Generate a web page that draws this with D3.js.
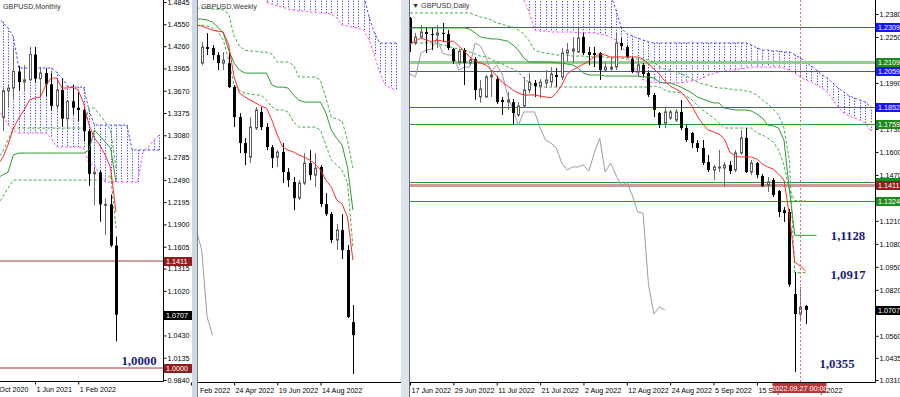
<!DOCTYPE html>
<html><head><meta charset="utf-8">
<script src="https://cdn.jsdelivr.net/npm/d3@7"></script>
<style>body{margin:0;background:#fff}svg{display:block}</style>
</head><body>
<svg id="c" width="900" height="397"></svg>
<script>
// ---------------- DATA ----------------
// Monthly GBPUSD, Nov 2020 .. Sep 2022  [open, high, low, close]
const monthlyDates = ["2020-11","2020-12","2021-01","2021-02","2021-03","2021-04","2021-05","2021-06","2021-07","2021-08","2021-09","2021-10","2021-11","2021-12","2022-01","2022-02","2022-03","2022-04","2022-05","2022-06","2022-07","2022-08","2022-09"];
const monthlyOHLC = [
[1.2960,1.3400,1.2855,1.3320],[1.3320,1.3705,1.3135,1.3670],[1.3670,1.3760,1.3450,1.3705],[1.3705,1.4240,1.3565,1.3925],
[1.3925,1.4000,1.3670,1.3785],[1.3785,1.4010,1.3670,1.3815],[1.3815,1.4250,1.3800,1.4150],[1.4150,1.4250,1.3785,1.3830],
[1.3830,1.3985,1.3570,1.3905],[1.3905,1.3960,1.3600,1.3755],[1.3755,1.3910,1.3410,1.3470],[1.3470,1.3835,1.3410,1.3680],
[1.3680,1.3835,1.3195,1.3300],[1.3300,1.3545,1.3160,1.3530],[1.3530,1.3750,1.3355,1.3445],[1.3445,1.3645,1.3270,1.3415],
[1.3415,1.3440,1.3000,1.3135],[1.3135,1.3165,1.2410,1.2570],[1.2570,1.2665,1.2155,1.2590],[1.2590,1.2615,1.1935,1.2165],
[1.2165,1.2245,1.1760,1.2165],[1.2165,1.2295,1.1600,1.1620],[1.1620,1.1740,1.0350,1.0707]];
const monthlyTenkan = [1.2686,1.2779,1.2951,1.3176,1.3309,1.3415,1.3547,1.3574,1.3587,1.3746,1.3838,1.3838,1.3706,1.3706,1.3719,1.3679,1.3507,1.3216,1.3044,1.2951,1.2819,1.2646,1.2064];
const monthlyKijun = [1.2514,1.2554,1.2593,1.2819,1.2845,1.2845,1.2845,1.2845,1.2845,1.2845,1.2845,1.2845,1.2845,1.2845,1.2845,1.2845,1.2845,1.2885,1.3150,1.3070,1.2991,1.2911,1.2461];
const monthlyLevelUp = [1.2752,1.2858,1.3017,1.3176,1.3176,1.3176,1.3176,1.3176,1.3176,1.3176,1.3176,1.3176,1.3176,1.3176,1.3176,1.3176,1.3176,1.3441,1.3441,1.3348,1.3256,1.3150,1.2646];
const monthlyLevelDn = [1.2156,1.2262,1.2381,1.2487,1.2487,1.2487,1.2487,1.2487,1.2487,1.2487,1.2487,1.2487,1.2487,1.2487,1.2487,1.2487,1.2487,1.2487,1.2487,1.2487,1.2487,1.2554,1.1852];
const monthlySpanA = [1.4633,1.4580,1.4501,1.4381,1.3971,1.3971,1.3971,1.3971,1.3971,1.3971,1.3971,1.3918,1.3838,1.3732,1.3719,1.3719,1.3719,1.3415,1.3216,1.3216,1.3216,1.3216,1.3216,1.3216,1.3216,1.2885,1.2885,1.2885,1.2885,1.2885,1.2885];
const monthlySpanB = [1.3415,1.3348,1.3216,1.3150,1.3110,1.3110,1.3110,1.3110,1.3110,1.3110,1.3044,1.2925,1.2925,1.2925,1.2925,1.2925,1.2911,1.2712,1.2686,1.2554,1.2461,1.2461,1.2461,1.2461,1.2461,1.2461,1.2461,1.2858,1.2925,1.3017,1.3083];
const monthlyTicks = ["1 Oct 2020","1 Jun 2021","1 Feb 2022"];
const monthlyPriceLabels = [1.4845,1.4550,1.4260,1.3965,1.3670,1.3375,1.3080,1.2785,1.2490,1.2195,1.1900,1.1605,1.1315,1.1020,1.0430,1.0135,0.9840];
const monthlyLevels = [1.1411,1.0000];

// Weekly GBPUSD, weeks of 13 Mar .. 25 Sep 2022
const weeklyOHLC = [
[1.2974,1.3149,1.2958,1.3108],[1.3108,1.3224,1.3041,1.3092],[1.3099,1.3124,1.2999,1.3041],[1.3041,1.3066,1.2916,1.2974],
[1.2974,1.3066,1.2916,1.2999],[1.2974,1.3066,1.2766,1.2774],[1.2774,1.2791,1.2441,1.2524],[1.2524,1.2558,1.2224,1.2308],
[1.2308,1.2349,1.2124,1.2224],[1.2191,1.2524,1.2141,1.2441],[1.2433,1.2608,1.2416,1.2583],[1.2566,1.2608,1.2416,1.2441],
[1.2441,1.2474,1.2249,1.2274],[1.2274,1.2291,1.2099,1.2183],[1.2191,1.2249,1.2108,1.2233],[1.2233,1.2308,1.1974,1.2066],
[1.2066,1.2099,1.1941,1.1999],[1.1983,1.2024,1.1749,1.1849],[1.1849,1.1999,1.1833,1.1974],[1.1974,1.2224,1.1958,1.2141],
[1.2141,1.2249,1.1999,1.2041],[1.2041,1.2224,1.1941,1.2099],[1.2108,1.2124,1.1774,1.1799],[1.1799,1.1891,1.1699,1.1716],
[1.1716,1.1733,1.1474,1.1499],[1.1499,1.1633,1.1416,1.1583],[1.1583,1.1716,1.1341,1.1416],[1.1416,1.1458,1.0850,1.0858],
[1.0816,1.0958,1.0383,1.0707]];
const weeklyTenkan = [1.3291,1.3283,1.3266,1.3249,1.3241,1.3233,1.3124,1.2858,1.2724,1.2691,1.2666,1.2641,1.2616,1.2599,1.2499,1.2374,1.2274,1.2249,1.2233,1.2208,1.2191,1.2166,1.2133,1.2083,1.1999,1.1941,1.1833,1.1799,1.1691,1.1333];
const weeklyKijun = [1.3341,1.3341,1.3333,1.3316,1.3274,1.3224,1.3083,1.2974,1.2916,1.2891,1.2891,1.2891,1.2891,1.2891,1.2791,1.2774,1.2774,1.2766,1.2708,1.2666,1.2649,1.2649,1.2649,1.2649,1.2558,1.2416,1.2349,1.2291,1.2108,1.1749];
const weeklyLevelUp = [1.3432,1.3432,1.3432,1.3424,1.3424,1.3416,1.3382,1.3199,1.3116,1.3082,1.3074,1.3074,1.3066,1.3066,1.3049,1.2983,1.2983,1.2983,1.2958,1.2858,1.2858,1.2858,1.2858,1.2833,1.2683,1.2524,1.2508,1.2491,1.2333,1.2099];
const weeklyLevelDn = [1.3291,1.3291,1.3283,1.3266,1.3233,1.3166,1.2999,1.2791,1.2749,1.2724,1.2716,1.2708,1.2708,1.2666,1.2608,1.2583,1.2583,1.2566,1.2483,1.2441,1.2441,1.2441,1.2441,1.2416,1.2291,1.2166,1.2124,1.2083,1.1974,1.1441];
const weeklySpanUp = [1.3541,1.3541,1.3541,1.3541,1.3541,1.3541,1.3541,1.3541,1.3541,1.3541,1.3541,1.3541,1.3541,1.3541,1.3541,1.3541,1.3541,1.3541,1.3541,1.3358,1.3224,1.3141,1.3141,1.3141,1.3141];
const weeklySpanDn = [1.3483,1.3466,1.3449,1.3441,1.3424,1.3416,1.3408,1.3408,1.3399,1.3399,1.3391,1.3391,1.3383,1.3349,1.3291,1.3283,1.3274,1.3266,1.3249,1.3166,1.3041,1.2891,1.2791,1.2766,1.2749];
const weeklyTicks = ["Feb 2022","24 Apr 2022","19 Jun 2022","14 Aug 2022"];

// Daily GBPUSD, 17 Jun .. 28 Sep 2022
const dailyOHLC = [
[1.2357,1.2363,1.2165,1.2216],[1.2216,1.2273,1.2205,1.2250],[1.2250,1.2318,1.2244,1.2278],[1.2278,1.2301,1.2159,1.2267],
[1.2267,1.2301,1.2176,1.2261],[1.2261,1.2318,1.2188,1.2273],[1.2273,1.2329,1.2222,1.2267],[1.2267,1.2290,1.2176,1.2188],
[1.2182,1.2188,1.2097,1.2114],[1.2108,1.2182,1.2091,1.2170],[1.2176,1.2188,1.1978,1.2103],[1.2103,1.2137,1.2091,1.2120],
[1.2125,1.2137,1.1894,1.1950],[1.1911,1.2007,1.1877,1.1956],[1.1911,1.2035,1.1905,1.2024],[1.2024,1.2063,1.1911,1.2035],
[1.2012,1.2029,1.1871,1.1882],[1.1894,1.1911,1.1809,1.1882],[1.1882,1.1939,1.1837,1.1894],[1.1882,1.1899,1.1758,1.1820],
[1.1809,1.1882,1.1798,1.1860],[1.1860,1.2024,1.1849,1.1950],[1.1950,1.2046,1.1933,1.1995],[1.1990,1.2007,1.1911,1.1973],
[1.1973,1.2012,1.1905,1.1995],[1.1990,1.2063,1.1962,1.2007],[1.1995,1.2080,1.1968,1.2041],[1.2035,1.2074,1.1968,1.2024],
[1.2024,1.2188,1.2007,1.2159],[1.2159,1.2216,1.2108,1.2176],[1.2170,1.2250,1.2103,1.2182],[1.2165,1.2301,1.2159,1.2244],
[1.2250,1.2273,1.2148,1.2159],[1.2165,1.2193,1.2092,1.2148],[1.2159,1.2193,1.2080,1.2148],[1.2159,1.2165,1.2007,1.2063],
[1.2063,1.2108,1.2052,1.2080],[1.2069,1.2137,1.2052,1.2080],[1.2080,1.2273,1.2063,1.2216],[1.2216,1.2244,1.2176,1.2199],
[1.2193,1.2205,1.2131,1.2137],[1.2125,1.2137,1.2046,1.2052],[1.2052,1.2131,1.2024,1.2092],[1.2092,1.2103,1.2024,1.2041],
[1.2046,1.2052,1.1911,1.1922],[1.1922,1.1933,1.1797,1.1837],[1.1820,1.1826,1.1735,1.1752],[1.1763,1.1854,1.1735,1.1826],
[1.1792,1.1837,1.1780,1.1826],[1.1780,1.1843,1.1769,1.1826],[1.1826,1.1894,1.1724,1.1735],[1.1735,1.1752,1.1656,1.1667],
[1.1707,1.1713,1.1622,1.1650],[1.1650,1.1667,1.1600,1.1622],[1.1622,1.1667,1.1526,1.1537],[1.1543,1.1583,1.1486,1.1498],
[1.1498,1.1526,1.1441,1.1515],[1.1509,1.1611,1.1486,1.1515],[1.1509,1.1543,1.1402,1.1526],[1.1526,1.1549,1.1475,1.1492],
[1.1498,1.1611,1.1486,1.1594],[1.1594,1.1724,1.1583,1.1679],[1.1679,1.1735,1.1481,1.1486],[1.1486,1.1554,1.1469,1.1537],
[1.1537,1.1543,1.1452,1.1469],[1.1464,1.1475,1.1402,1.1407],[1.1413,1.1458,1.1373,1.1430],[1.1441,1.1452,1.1345,1.1356],
[1.1379,1.1385,1.1232,1.1260],[1.1271,1.1288,1.1204,1.1254],[1.1260,1.1277,1.0836,1.0850],[1.0796,1.0921,1.0355,1.0683],
[1.0683,1.0836,1.0638,1.0723],[1.0729,1.0734,1.0627,1.0707]];
const dailyTenkan = [1.2210,1.2227,1.2244,1.2233,1.2222,1.2233,1.2227,1.2222,1.2227,1.2199,1.2171,1.2137,1.2114,1.2103,1.2092,1.2063,1.2029,1.1995,1.1973,1.1950,1.1933,1.1922,1.1922,1.1922,1.1916,1.1911,1.1905,1.1933,1.1978,1.2041,1.2063,1.2080,1.2097,1.2114,1.2137,1.2154,1.2148,1.2137,1.2137,1.2137,1.2137,1.2137,1.2137,1.2125,1.2097,1.2069,1.2041,1.2001,1.1973,1.1956,1.1939,1.1905,1.1860,1.1803,1.1758,1.1724,1.1713,1.1701,1.1673,1.1599,1.1577,1.1571,1.1571,1.1571,1.1560,1.1532,1.1515,1.1503,1.1475,1.1441,1.1243,1.0977,1.0955,1.0926];
const dailyKijun = [1.2301,1.2301,1.2301,1.2301,1.2301,1.2301,1.2301,1.2301,1.2301,1.2301,1.2301,1.2295,1.2273,1.2250,1.2244,1.2239,1.2239,1.2233,1.2227,1.2205,1.2176,1.2131,1.2108,1.2108,1.2108,1.2108,1.2108,1.2103,1.2103,1.2097,1.2092,1.2075,1.2046,1.2035,1.2035,1.2035,1.2029,1.2029,1.2029,1.2029,1.2029,1.2029,1.2029,1.2024,1.2024,1.2018,1.1995,1.1990,1.1990,1.1978,1.1967,1.1950,1.1933,1.1911,1.1899,1.1888,1.1877,1.1877,1.1848,1.1843,1.1837,1.1837,1.1837,1.1831,1.1814,1.1792,1.1752,1.1747,1.1735,1.1667,1.1385,1.1128,1.1128,1.1128,1.1128,1.1128];
const dailyLevelUp = [1.2386,1.2386,1.2386,1.2386,1.2386,1.2386,1.2386,1.2386,1.2386,1.2386,1.2386,1.2386,1.2374,1.2363,1.2357,1.2346,1.2329,1.2323,1.2312,1.2306,1.2290,1.2267,1.2227,1.2176,1.2165,1.2159,1.2154,1.2148,1.2148,1.2148,1.2142,1.2142,1.2142,1.2137,1.2137,1.2137,1.2137,1.2131,1.2131,1.2131,1.2125,1.2125,1.2125,1.2125,1.2120,1.2108,1.2080,1.2069,1.2063,1.2052,1.2041,1.2029,1.2012,1.1995,1.1984,1.1978,1.1967,1.1961,1.1961,1.1956,1.1950,1.1950,1.1944,1.1939,1.1922,1.1894,1.1871,1.1843,1.1809,1.1735,1.1554,1.0917,1.0917,1.0917];
const dailyLevelDn = [1.2216,1.2216,1.2216,1.2216,1.2216,1.2210,1.2205,1.2199,1.2188,1.2182,1.2176,1.2165,1.2154,1.2142,1.2137,1.2125,1.2108,1.2097,1.2080,1.2069,1.2052,1.2018,1.1990,1.1973,1.1967,1.1967,1.1967,1.1967,1.1967,1.1967,1.1967,1.1967,1.1967,1.1967,1.1967,1.1967,1.1967,1.1967,1.1967,1.1967,1.1967,1.1967,1.1967,1.1967,1.1967,1.1973,1.1967,1.1950,1.1939,1.1939,1.1933,1.1916,1.1894,1.1865,1.1837,1.1814,1.1792,1.1763,1.1735,1.1735,1.1735,1.1735,1.1735,1.1735,1.1707,1.1696,1.1679,1.1656,1.1611,1.1526,1.1385,1.1324,1.1324,1.1324];
const dailySpanUp = [1.2516,1.2516,1.2516,1.2516,1.2516,1.2516,1.2516,1.2516,1.2516,1.2516,1.2516,1.2516,1.2516,1.2516,1.2516,1.2516,1.2487,1.2403,1.2301,1.2267,1.2256,1.2244,1.2233,1.2222,1.2216,1.2216,1.2216,1.2216,1.2216,1.2216,1.2216,1.2216,1.2216,1.2216,1.2216,1.2216,1.2216,1.2216,1.2216,1.2216,1.2216,1.2216,1.2205,1.2188,1.2176,1.2176,1.2171,1.2171,1.2165,1.2165,1.2148,1.2131,1.2108,1.2086,1.2063,1.2035,1.2018,1.1990,1.1961,1.1939,1.1916,1.1905,1.1894,1.1882,1.1854];
const dailySpanDn = [1.2459,1.2391,1.2290,1.2284,1.2284,1.2278,1.2278,1.2278,1.2278,1.2278,1.2273,1.2273,1.2273,1.2273,1.2267,1.2261,1.2250,1.2233,1.2205,1.2148,1.2092,1.2035,1.2007,1.1995,1.1995,1.1990,1.1990,1.1990,1.1990,1.1990,1.1995,1.2001,1.2007,1.2018,1.2035,1.2041,1.2052,1.2058,1.2063,1.2063,1.2069,1.2075,1.2080,1.2080,1.2080,1.2080,1.2080,1.2080,1.2075,1.2063,1.2046,1.2024,1.2007,1.1995,1.1978,1.1961,1.1939,1.1894,1.1854,1.1820,1.1803,1.1792,1.1780,1.1763,1.1718];
const dailyTicks = ["17 Jun 2022","29 Jun 2022","11 Jul 2022","21 Jul 2022","2 Aug 2022","12 Aug 2022","24 Aug 2022","5 Sep 2022","15 Sep 2022","27 Sep 2022"];
const dailyPriceLabels = [1.2380,1.2250,1.1990,1.1730,1.1600,1.1470,1.1210,1.1080,1.0950,1.0820,1.0560,1.0435,1.0310];
const dailyLevels = [1.2309,1.2109,1.2059,1.1852,1.1759,1.1429,1.1411,1.1324];
const dailyLevelKinds = ["blue","green","blue","blue","green","green","brown","green"];
const lastPrice = 1.0707;
const dailyNotes = [1.1128,1.0917,1.0355];
const monthlyNote = 1.0000;
const cursorLabel = "2022.09.27 00:00";

// ---------------- DRAWING ----------------
const FONT = '"Liberation Sans", Arial, sans-serif';
const svg = d3.select("#c");
svg.append("rect").attr("width",900).attr("height",397).attr("fill","#fff");
const defs = svg.append("defs");
function clip(id,x,y,w,h){defs.append("clipPath").attr("id",id).append("rect").attr("x",x).attr("y",y).attr("width",w).attr("height",h);}
clip("cm",0,0,163,381); clip("cw",198,0,202,382); clip("cd",410,0,465,382);

const COL = {red:"#ff2b2b", kijun:"#2e9a2e", dash:"#3fae3f", hatch:"#3a3aff", spanA:"#4a4aff", spanB:"#ff4dff", chikou:"#9c9caa",
  blue:"#4646ff", green:"#2a9a2a", lgreen:"#8fcf8f", brown:"#cf9a9a", note:"#1c1c78"};

function pathLine(g, vals, x, y, off, stroke, dash, w){
  g.append("path").datum(vals)
    .attr("d", d3.line().x((d,i)=>x(i+off)).y(d=>y(d)))
    .attr("fill","none").attr("stroke",stroke).attr("stroke-width",w||1)
    .attr("stroke-dasharray",dash||null);
}
function cloud(g, up, dn, x, y, off){
  g.append("g").selectAll("line").data(up).join("line")
    .attr("x1",(d,i)=>Math.round(x(i+off))+0.5).attr("x2",(d,i)=>Math.round(x(i+off))+0.5)
    .attr("y1",d=>y(d)).attr("y2",(d,i)=>y(dn[i]))
    .attr("stroke",COL.hatch).attr("stroke-width",1).attr("stroke-dasharray","1.2,1.6");
  pathLine(g, up, x, y, off, COL.spanA, "2.5,2");
  pathLine(g, dn, x, y, off, COL.spanB, "2.5,2");
}
function candles(g, data, x, y, off){
  const c = g.append("g").selectAll("g").data(data).join("g");
  c.append("line")
    .attr("x1",(d,i)=>Math.round(x(i+off))+0.5).attr("x2",(d,i)=>Math.round(x(i+off))+0.5)
    .attr("y1",d=>y(d[1])).attr("y2",d=>y(d[2]))
    .attr("stroke",d=>d[3]>=d[0]?"#6a6a6a":"#000");
  c.append("rect")
    .attr("x",(d,i)=>Math.round(x(i+off))+(d[3]>=d[0]?-0.5:-1))
    .attr("width",d=>d[3]>=d[0]?2:3)
    .attr("y",d=>y(Math.max(d[0],d[3])))
    .attr("height",d=>Math.max(1,y(Math.min(d[0],d[3]))-y(Math.max(d[0],d[3]))))
    .attr("fill",d=>d[3]>=d[0]?"#fff":"#000")
    .attr("stroke",d=>d[3]>=d[0]?"#5a5a5a":"none");
}
function hline(g, y, v, x1, x2, col, w){
  const yy = (w||1)%2===1 ? Math.round(y(v))+0.5 : Math.round(y(v));
  g.append("line").attr("x1",x1).attr("x2",x2).attr("y1",yy).attr("y2",yy)
    .attr("stroke",col).attr("stroke-width",w||1);
}
function priceAxis(xPos, y, vals){
  const g = svg.append("g").attr("transform",`translate(${xPos},0)`)
    .call(d3.axisRight(y).tickValues(vals).tickFormat(d3.format(".4f")).tickSize(3).tickPadding(1));
  g.select(".domain").remove();
  g.attr("font-family",FONT).attr("font-size",7.2);
  g.selectAll("text").attr("fill","#000");
  g.selectAll("line").attr("stroke","#000");
}
function dateAxis(yPos, x, idx, labels){
  const g = svg.append("g").attr("transform",`translate(0,${yPos})`)
    .call(d3.axisBottom(x).tickValues(idx).tickFormat((d,i)=>labels[i]).tickSize(3).tickPadding(2));
  g.select(".domain").remove();
  g.attr("font-family",FONT).attr("font-size",7.2);
  g.selectAll("text").attr("fill","#000").attr("text-anchor","start").attr("dx",1);
  g.selectAll("line").attr("stroke","#000");
  return g;
}
function tag(x, y, v, bg, w, withText){
  const g = svg.append("g");
  g.append("rect").attr("x",x).attr("y",Math.round(y(v))-4).attr("width",w).attr("height",9).attr("fill",bg);
  if(withText!==false)
    g.append("text").attr("x",x+2).attr("y",Math.round(y(v))+3).attr("fill","#fff")
      .attr("font-family",FONT).attr("font-size",7.2).text(d3.format(".4f")(v));
}
function note(x, y, v, dy){
  svg.append("text").attr("x",x).attr("y",y(v)+dy).attr("font-family",'"Liberation Serif","Times New Roman",serif')
    .attr("font-weight","bold").attr("font-size",12.8).attr("fill",COL.note).attr("text-anchor","middle")
    .text(d3.format(".4f")(v).replace(".",","));
}

// ===== Monthly panel =====
const yM = d3.scaleLinear().domain([0.9840,1.4845]).range([380,2]);
const xM = d3.scaleLinear().domain([0,1]).range([-2.8,2.6]);
const gM = svg.append("g").attr("clip-path","url(#cm)");
monthlyLevels.forEach(v=>hline(gM,yM,v,0,163,"#c07a7a",1.5));
cloud(gM, monthlySpanA, monthlySpanB, xM, yM, 0);
pathLine(gM, monthlyLevelUp, xM, yM, 0, COL.dash, "3,2");
pathLine(gM, monthlyLevelDn, xM, yM, 0, COL.dash, "3,2");
candles(gM, monthlyOHLC, xM, yM, 0);
pathLine(gM, monthlyKijun, xM, yM, 0, COL.kijun);
pathLine(gM, monthlyTenkan, xM, yM, 0, COL.red);
gM.append("text").attr("x",3).attr("y",9).attr("font-family",FONT).attr("font-size",7.2).attr("fill","#333").text("GBPUSD,Monthly");
svg.append("line").attr("x1",163.5).attr("x2",163.5).attr("y1",0).attr("y2",381.5).attr("stroke","#000");
svg.append("line").attr("x1",0).attr("x2",163.5).attr("y1",381.5).attr("y2",381.5).attr("stroke","#000");
priceAxis(163.5, yM, monthlyPriceLabels);
dateAxis(381.5, xM, [-1,7,15], monthlyTicks);
tag(164, yM, monthlyLevels[0], "#8e1f1f", 29);
tag(164, yM, lastPrice, "#000", 29);
tag(164, yM, monthlyLevels[1], "#8e1f1f", 29);
note(139, yM, monthlyNote, -3);

// ===== Weekly panel =====
const yW = d3.scaleLinear().domain([1.0250,1.3500]).range([390,0]);
const xW = d3.scaleLinear().domain([0,1]).range([201.7,207.1]);
const gW = svg.append("g").attr("clip-path","url(#cw)");
cloud(gW, weeklySpanUp, weeklySpanDn, xW, yW, 12);
pathLine(gW, weeklyOHLC.slice(25).map(d=>d[3]), xW, yW, -1, COL.chikou);
pathLine(gW, weeklyLevelUp, xW, yW, -1, COL.dash, "3,2");
pathLine(gW, weeklyLevelDn, xW, yW, -1, COL.dash, "3,2");
candles(gW, weeklyOHLC, xW, yW, 0);
pathLine(gW, weeklyKijun, xW, yW, -1, COL.kijun);
pathLine(gW, weeklyTenkan, xW, yW, -1, COL.red);
gW.append("text").attr("x",201).attr("y",9).attr("font-family",FONT).attr("font-size",7.2).attr("fill","#333").text("GBPUSD,Weekly");
svg.append("line").attr("x1",198).attr("x2",401).attr("y1",382.5).attr("y2",382.5).attr("stroke","#000");
const wAx = dateAxis(382.5, xW, [-2,6,14,22], weeklyTicks);
wAx.selectAll("text").filter((d,i)=>i===0).attr("x",xW(-0.7)-xW(-2)+0.5);

// ===== Daily panel =====
const yD = d3.scaleLinear().domain([1.0310,1.2380]).range([380,14]);
const xD = d3.scaleLinear().domain([0,1]).range([410,415.42]);
const gD = svg.append("g").attr("clip-path","url(#cd)");
cloud(gD, dailySpanUp, dailySpanDn, xD, yD, 21);
dailyLevels.forEach((v,i)=>{
  const k = dailyLevelKinds[i];
  if(k==="blue") hline(gD,yD,v,410,875,COL.blue,1);
  else if(k==="brown") hline(gD,yD,v,410,875,COL.brown,3);
  else if(i===1) hline(gD,yD,v,410,875,COL.lgreen,3);
  else hline(gD,yD,v,410,875,COL.green,1);
});
pathLine(gD, dailyOHLC.slice(25).map(d=>d[3]), xD, yD, -1, COL.chikou);
pathLine(gD, dailyLevelUp, xD, yD, 0, COL.dash, "3,2");
pathLine(gD, dailyLevelDn, xD, yD, 0, COL.dash, "3,2");
candles(gD, dailyOHLC, xD, yD, 0);
pathLine(gD, dailyKijun, xD, yD, 0, COL.kijun);
pathLine(gD, dailyTenkan, xD, yD, 0, COL.red);
gD.append("line").attr("x1",Math.round(xD(72))+0.5).attr("x2",Math.round(xD(72))+0.5).attr("y1",0).attr("y2",382)
  .attr("stroke","#e07070").attr("stroke-dasharray","2,2");
gD.append("text").attr("x",412).attr("y",8).attr("font-family",FONT).attr("font-size",7.2).attr("fill","#333").text("\u25BC GBPUSD,Daily");
svg.append("line").attr("x1",875.5).attr("x2",875.5).attr("y1",0).attr("y2",382.5).attr("stroke","#000");
svg.append("line").attr("x1",410).attr("x2",875.5).attr("y1",382.5).attr("y2",382.5).attr("stroke","#000");
priceAxis(875.5, yD, dailyPriceLabels);
dateAxis(382.5, xD, [0,8,16,24,32,40,48,56,64,72], dailyTicks);
const tagCol = {blue:"#1515ff", green:"#1f8a1f", brown:"#8e1f1f"};
dailyLevels.forEach((v,i)=>{ if(i!==6) tag(876, yD, v, tagCol[dailyLevelKinds[i]], 24, i!==5); });
tag(876, yD, dailyLevels[6], tagCol.brown, 24);
tag(876, yD, lastPrice, "#000", 24);
// cursor time tag
const cx = Math.round(xD(72))+0.5;
svg.append("rect").attr("x",cx-28).attr("y",383).attr("width",54).attr("height",10).attr("fill","#b33a3a");
svg.append("text").attr("x",cx-1).attr("y",391).attr("text-anchor","middle").attr("font-family",FONT).attr("font-size",7.2).attr("fill","#fff").text(cursorLabel);
note(848, yD, dailyNotes[0], 5);
note(848, yD, dailyNotes[1], 6);
note(837, yD, dailyNotes[2], -4);

// ===== window frames =====
svg.append("rect").attr("x",192).attr("y",0).attr("width",5).attr("height",397).attr("fill","#cfd9e6");
svg.append("line").attr("x1",197.5).attr("x2",197.5).attr("y1",0).attr("y2",397).attr("stroke","#7a7a7a");
svg.append("rect").attr("x",401).attr("y",0).attr("width",8).attr("height",397).attr("fill","#dde4ee");
svg.append("line").attr("x1",409.5).attr("x2",409.5).attr("y1",0).attr("y2",397).attr("stroke","#6a6a6a");
</script>
</body></html>
